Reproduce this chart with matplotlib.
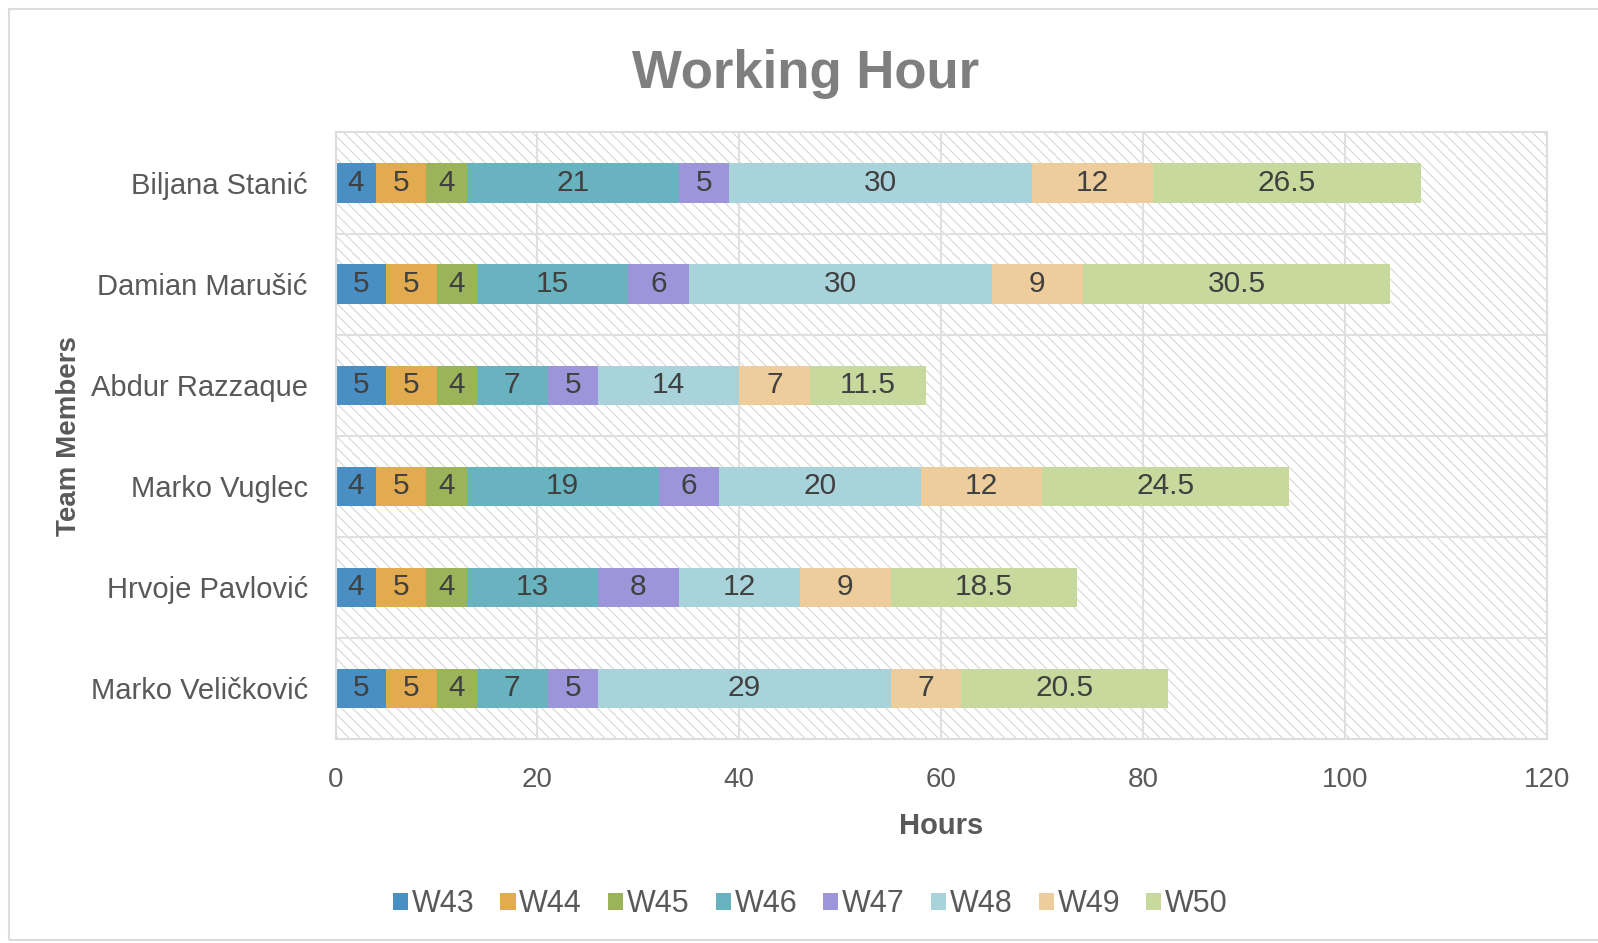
import numpy as np
import matplotlib.pyplot as plt
from matplotlib.patches import Rectangle

plt.rcParams['font.family'] = ['Liberation Sans', 'DejaVu Sans']
plt.rcParams['hatch.linewidth'] = 0.7

members = ["Biljana Stanić", "Damian Marušić", "Abdur Razzaque",
           "Marko Vuglec", "Hrvoje Pavlović", "Marko Veličković"]
weeks = ["W43", "W44", "W45", "W46", "W47", "W48", "W49", "W50"]

w43 = [4, 5, 5, 4, 4, 5]
w44 = [5, 5, 5, 5, 5, 5]
w45 = [4, 4, 4, 4, 4, 4]
w46 = [21, 15, 7, 19, 13, 7]
w47 = [5, 6, 5, 6, 8, 5]
w48 = [30, 30, 14, 20, 12, 29]
w49 = [12, 9, 7, 12, 9, 7]
w50 = [26.5, 30.5, 11.5, 24.5, 18.5, 20.5]
hours = [w43, w44, w45, w46, w47, w48, w49, w50]

colors = ["#4a8fc4", "#e3ab4f", "#9bb459", "#69b3c1",
          "#9d95da", "#a9d3da", "#eecd9c", "#c7d99d"]

fig = plt.figure(figsize=(15.98, 9.43), dpi=100)
ax = fig.add_axes([0.210, 0.2163, 0.758, 0.6432])

# outer frame of the chart
fig.patches.append(Rectangle((0.0056, 0.003), 1.2, 0.987, transform=fig.transFigure,
                             fill=False, edgecolor="#dcdcdc", linewidth=1.5))

# hatched plot background
ax.add_patch(Rectangle((0, 0), 1, 1, transform=ax.transAxes, facecolor="white",
                       edgecolor="#d2d2d2", hatch="\\\\\\", linewidth=0, zorder=0.1))

y = np.arange(len(members))
left = np.zeros(len(members))
for wk, vals, c in zip(weeks, hours, colors):
    vals = np.array(vals, dtype=float)
    bars = ax.barh(y, vals, left=left, height=0.39, color=c, label=wk, zorder=2)
    labels = [f"{v:g}" for v in vals]
    ax.bar_label(bars, labels=labels, label_type="center", fontsize=21.5, color="#404040")
    left += vals

ax.set_xlim(0, 120)
ax.set_ylim(len(members) - 0.5, -0.5)
ax.set_xticks(np.arange(0, 121, 20))
ax.set_yticks(y)
ax.set_yticklabels(members)
ax.tick_params(axis="both", length=0, labelcolor="#595959")
ax.tick_params(axis="x", pad=20, labelsize=20)
ax.tick_params(axis="y", pad=20, labelsize=21)

# grid: vertical at ticks, horizontal between categories
for xv in np.arange(20, 120, 20):
    ax.axvline(xv, color="#e0e0e0", linewidth=1.5, zorder=0.5)
for yb in np.arange(0.5, len(members) - 0.5, 1):
    ax.axhline(yb, color="#e0e0e0", linewidth=1.5, zorder=0.5)
for s in ax.spines.values():
    s.set_color("#dddddd")
    s.set_linewidth(1.5)

ax.set_xlabel("Hours", fontsize=21, fontweight="bold", color="#595959", labelpad=14)
ax.set_ylabel("Team Members", fontsize=20, fontweight="bold", color="#595959", labelpad=6)

fig.text(0.504, 0.922, "Working Hour", ha="center", va="center",
         fontsize=38, fontweight="bold", color="#7f7f7f")

fig.legend(loc="center", bbox_to_anchor=(0.507, 0.041), ncol=8, frameon=False,
           fontsize=22, handlelength=0.5, handleheight=0.5, handletextpad=0.12,
           columnspacing=0.85, labelcolor="#595959")

fig.savefig("out.png", dpi=100)
